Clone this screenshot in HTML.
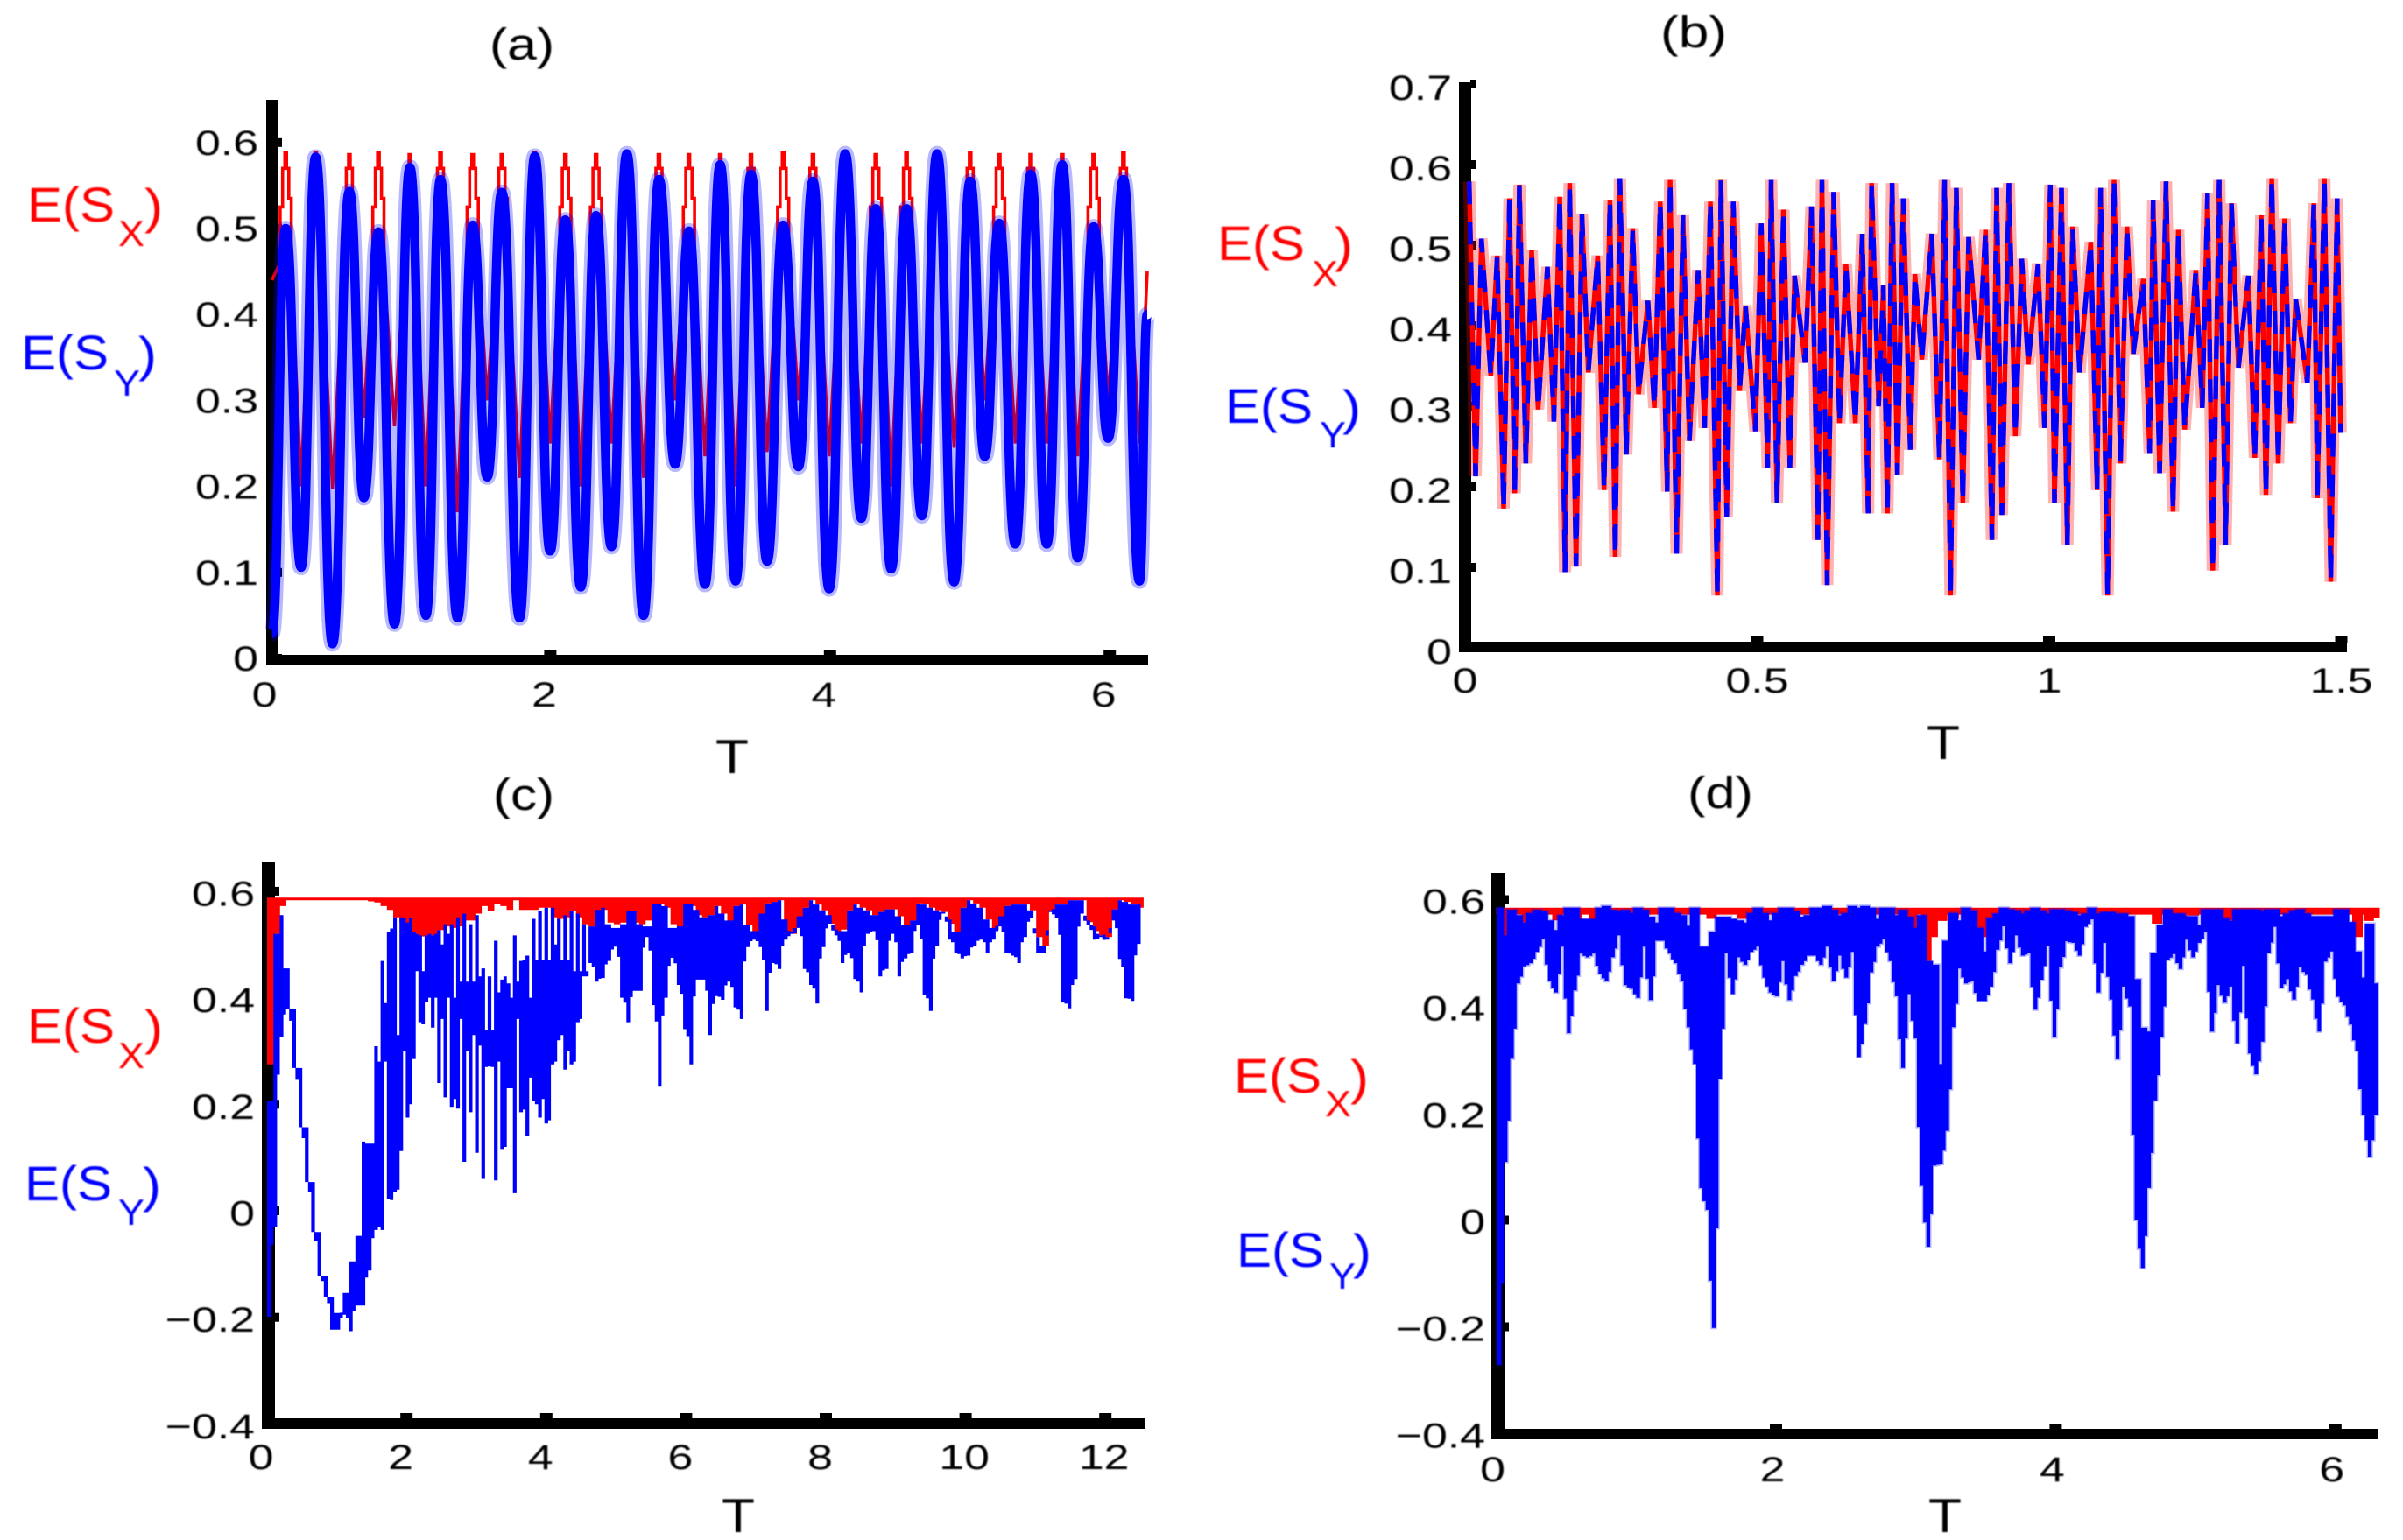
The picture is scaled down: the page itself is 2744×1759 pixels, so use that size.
<!DOCTYPE html>
<html>
<head>
<meta charset="utf-8">
<title>E(SX) and E(SY) versus T</title>
<style>
html,body{margin:0;padding:0;background:#fff}
svg{display:block}
text{font-family:"Liberation Sans",sans-serif;fill:#000}
.lbl-x text,text.lbl-x{fill:#f00}
text.lbl-y{fill:#00f}
</style>
</head>
<body>
<svg id="figure" xmlns="http://www.w3.org/2000/svg" width="2744" height="1759" viewBox="0 0 2744 1759">
<defs><filter id="soft" x="-2%" y="-2%" width="104%" height="104%"><feGaussianBlur stdDeviation="0.7"/></filter></defs>
<rect width="2744" height="1759" fill="#fff"/>
<g id="axes-layer"></g>
<g id="series-layer"></g>
<g id="text-layer" filter="url(#soft)">
  <text x="559" y="68" font-size="51" textLength="74" lengthAdjust="spacingAndGlyphs">(a)</text>
  <text x="1896" y="54" font-size="51" textLength="76" lengthAdjust="spacingAndGlyphs">(b)</text>
  <text x="563" y="925" font-size="51" textLength="70" lengthAdjust="spacingAndGlyphs">(c)</text>
  <text x="1927" y="923" font-size="51" textLength="75" lengthAdjust="spacingAndGlyphs">(d)</text>

  <text x="817" y="883" font-size="55" textLength="38" lengthAdjust="spacingAndGlyphs">T</text>
  <text x="2200" y="867" font-size="55" textLength="38" lengthAdjust="spacingAndGlyphs">T</text>
  <text x="824" y="1750" font-size="55" textLength="38" lengthAdjust="spacingAndGlyphs">T</text>
  <text x="2202" y="1750" font-size="55" textLength="38" lengthAdjust="spacingAndGlyphs">T</text>

  <g>
    <text class="lbl-x" x="31" y="253" font-size="56" textLength="100" lengthAdjust="spacingAndGlyphs">E(S</text>
    <text class="lbl-x" x="135" y="281" font-size="42" textLength="30" lengthAdjust="spacingAndGlyphs">X</text>
    <text class="lbl-x" x="165" y="255" font-size="56" textLength="21" lengthAdjust="spacingAndGlyphs">)</text>
  </g>
  <g>
    <text class="lbl-y" x="24" y="422" font-size="56" textLength="100" lengthAdjust="spacingAndGlyphs">E(S</text>
    <text class="lbl-y" x="130" y="452" font-size="42" textLength="30" lengthAdjust="spacingAndGlyphs">Y</text>
    <text class="lbl-y" x="158" y="424" font-size="56" textLength="21" lengthAdjust="spacingAndGlyphs">)</text>
  </g>
  <g>
    <text class="lbl-x" x="1390" y="297" font-size="56" textLength="100" lengthAdjust="spacingAndGlyphs">E(S</text>
    <text class="lbl-x" x="1498" y="327" font-size="42" textLength="30" lengthAdjust="spacingAndGlyphs">X</text>
    <text class="lbl-x" x="1524" y="299" font-size="56" textLength="21" lengthAdjust="spacingAndGlyphs">)</text>
  </g>
  <g>
    <text class="lbl-y" x="1399" y="483" font-size="56" textLength="100" lengthAdjust="spacingAndGlyphs">E(S</text>
    <text class="lbl-y" x="1507" y="511" font-size="42" textLength="30" lengthAdjust="spacingAndGlyphs">Y</text>
    <text class="lbl-y" x="1533" y="485" font-size="56" textLength="21" lengthAdjust="spacingAndGlyphs">)</text>
  </g>
  <g>
    <text class="lbl-x" x="31" y="1191" font-size="56" textLength="100" lengthAdjust="spacingAndGlyphs">E(S</text>
    <text class="lbl-x" x="135" y="1220" font-size="42" textLength="30" lengthAdjust="spacingAndGlyphs">X</text>
    <text class="lbl-x" x="165" y="1193" font-size="56" textLength="21" lengthAdjust="spacingAndGlyphs">)</text>
  </g>
  <g>
    <text class="lbl-y" x="28" y="1371" font-size="56" textLength="100" lengthAdjust="spacingAndGlyphs">E(S</text>
    <text class="lbl-y" x="135" y="1399" font-size="42" textLength="30" lengthAdjust="spacingAndGlyphs">Y</text>
    <text class="lbl-y" x="163" y="1373" font-size="56" textLength="21" lengthAdjust="spacingAndGlyphs">)</text>
  </g>
  <g>
    <text class="lbl-x" x="1409" y="1248" font-size="56" textLength="100" lengthAdjust="spacingAndGlyphs">E(S</text>
    <text class="lbl-x" x="1513" y="1275" font-size="42" textLength="30" lengthAdjust="spacingAndGlyphs">X</text>
    <text class="lbl-x" x="1542" y="1250" font-size="56" textLength="21" lengthAdjust="spacingAndGlyphs">)</text>
  </g>
  <g>
    <text class="lbl-y" x="1412" y="1447" font-size="56" textLength="100" lengthAdjust="spacingAndGlyphs">E(S</text>
    <text class="lbl-y" x="1518" y="1472" font-size="42" textLength="30" lengthAdjust="spacingAndGlyphs">Y</text>
    <text class="lbl-y" x="1545" y="1449" font-size="56" textLength="21" lengthAdjust="spacingAndGlyphs">)</text>
  </g>
</g>
</svg>
<script>
/* ---------- Tick values and labels ---------- */
const aXTicks=[0,2,4,6];
const aXLabels=['0','2','4','6'];
const aYTicks=[0,0.1,0.2,0.3,0.4,0.5,0.6];
const aYLabels=['0','0.1','0.2','0.3','0.4','0.5','0.6'];
const bXTicks=[0,0.5,1,1.5];
const bXLabels=['0','0.5','1','1.5'];
const bYTicks=[0,0.1,0.2,0.3,0.4,0.5,0.6,0.7];
const bYLabels=['0','0.1','0.2','0.3','0.4','0.5','0.6','0.7'];
const cXTicks=[0,2,4,6,8,10,12];
const cXLabels=['0','2','4','6','8','10','12'];
const cYTicks=[-0.4,-0.2,0,0.2,0.4,0.6];
const cYLabels=['\u22120.4','\u22120.2','0','0.2','0.4','0.6'];
const dXTicks=[0,2,4,6];
const dXLabels=['0','2','4','6'];
const dYTicks=[-0.4,-0.2,0,0.2,0.4,0.6];
const dYLabels=['\u22120.4','\u22120.2','0','0.2','0.4','0.6'];

/* ---------- Panel (a): turning points ---------- */
const aT=[.01,.108,.218,.322,.443,.563,.667,.771,.886,.996,1.111,1.215,1.336,1.445,1.549,1.654,1.78,1.889,1.999,2.108,2.218,2.327,2.437,2.547,2.667,2.777,2.892,2.991,3.106,3.215,3.325,3.435,3.55,3.665,3.774,3.878,3.994,4.109,4.224,4.328,4.437,4.547,4.656,4.766,4.887,5.002,5.106,5.21,5.325,5.435,5.55,5.66,5.77,5.885,5.989,6.098,6.213,6.268];
const aBlue=[.029,.5,.106,.583,.017,.543,.187,.496,.04,.571,.05,.557,.047,.504,.211,.542,.047,.584,.125,.51,.083,.515,.13,.587,.05,.557,.226,.497,.086,.574,.09,.563,.113,.504,.223,.555,.081,.587,.163,.523,.104,.523,.166,.587,.089,.555,.235,.506,.133,.563,.133,.574,.117,.502,.256,.557,.09,.4];
const aRed=[.44,.588,.2,.588,.197,.586,.28,.588,.27,.586,.2,.588,.17,.586,.3,.586,.21,.588,.25,.586,.2,.586,.25,.588,.21,.586,.3,.586,.235,.586,.2,.586,.24,.588,.3,.586,.235,.588,.25,.586,.2,.588,.25,.588,.245,.588,.3,.586,.25,.586,.25,.586,.235,.586,.3,.588,.25,.45];

/* ---------- Panel (b): turning points ---------- */
const bT=[.007,.018,.028,.044,.055,.066,.076,.085,.093,.104,.114,.125,.141,.152,.162,.171,.179,.19,.2,.211,.227,.238,.248,.257,.265,.276,.287,.297,.313,.324,.334,.346,.351,.362,.373,.384,.399,.41,.42,.432,.438,.448,.459,.47,.48,.497,.507,.518,.524,.534,.545,.556,.564,.582,.593,.604,.611,.62,.631,.641,.652,.668,.68,.69,.696,.708,.716,.723,.731,.74,.75,.762,.77,.782,.799,.812,.821,.831,.841,.852,.862,.879,.891,.902,.91,.919,.931,.942,.953,.964,.981,.992,1.002,1.009,1.021,1.031,1.04,1.052,1.071,1.082,1.088,1.1,1.111,1.122,1.133,1.144,1.161,1.172,1.178,1.189,1.2,1.212,1.221,1.232,1.251,1.262,1.271,1.28,1.291,1.302,1.312,1.324,1.341,1.352,1.363,1.371,1.381,1.392,1.403,1.413,1.422,1.442,1.453,1.459,1.471,1.482,1.493,1.499];
const bV=[.579,.213,.508,.338,.487,.173,.558,.192,.575,.229,.494,.296,.473,.281,.56,.094,.577,.101,.539,.342,.487,.196,.556,.113,.583,.24,.521,.315,.431,.298,.554,.194,.581,.117,.537,.257,.469,.273,.554,.065,.581,.163,.554,.319,.425,.269,.527,.223,.581,.18,.544,.223,.462,.354,.548,.134,.581,.078,.566,.279,.477,.279,.514,.167,.577,.3,.45,.167,.577,.215,.558,.246,.464,.358,.514,.234,.581,.065,.571,.18,.51,.358,.519,.134,.571,.165,.577,.263,.483,.352,.477,.273,.575,.18,.571,.128,.523,.342,.504,.196,.571,.065,.581,.229,.523,.365,.458,.242,.556,.217,.579,.169,.519,.271,.469,.298,.564,.096,.581,.128,.552,.348,.462,.236,.537,.19,.583,.229,.533,.279,.433,.329,.552,.186,.583,.082,.558,.267];

/* ---------- Panel (c): per-column range of the fast oscillation ---------- */
const cStartT=0.005;
const cStepT=0.0902;
const cHigh=[.206,.52,.555,.455,.379,.268,.157,.054,-.04,-.123,-.161,-.192,-.154,-.095,-.047,.13,.126,.309,.469,.524,.551,.551,.541,.524,.517,.517,.517,.527,.538,.538,.551,.558,.538,.555,.455,.44,.507,.434,.427,.517,.469,.479,.548,.562,.569,.569,.548,.555,.562,.558,.538,.534,.565,.569,.538,.531,.538,.562,.562,.538,.534,.576,.576,.572,.531,.534,.576,.576,.565,.551,.555,.572,.558,.545,.572,
.575,.536,.525,.558,.577,.58,.583,.547,.523,.553,.569,.583,.575,.564,.555,.528,.525,.564,.575,.569,.564,.555,.561,.566,.566,.553,.536,.545,.577,.575,.569,.564,.561,.547,.523,.569,.583,.577,.569,.547,.531,.553,.572,.575,.575,.575,.564,.514,.498,.564,.575,.575,.583,.583,.583,.545,.534,.517,.514,.566,.583,.58,.575,.575];
const cLow=[-.199,-.03,.327,.379,.268,.157,.054,-.04,-.123,-.161,-.223,-.223,-.195,-.226,-.178,-.178,-.112,-.036,-.036,.022,.036,.112,.175,.285,.354,.392,.344,.24,.213,.195,.192,.092,.185,.109,.06,.271,.057,.116,.23,.033,.185,.14,.206,.175,.164,.275,.32,.265,.275,.354,.44,.465,.43,.437,.469,.496,.4,.354,.413,.413,.514,.386,.233,.4,.475,.424,.341,.275,.434,.434,.33,.403,.396,.43,.382,
.36,.495,.509,.495,.375,.465,.454,.509,.52,.531,.454,.424,.389,.495,.539,.517,.465,.484,.435,.41,.52,.525,.44,.454,.52,.44,.474,.484,.536,.405,.375,.498,.558,.509,.484,.474,.479,.498,.509,.484,.509,.534,.484,.479,.465,.514,.55,.484,.484,.561,.55,.391,.38,.435,.558,.536,.509,.514,.509,.545,.473,.399,.394,.501];
const cBodyFrom=17;
const cBodyHigh=[.28,.39,.53,.33,.55,.55,.52,.45,.52,.52,.5,.52,.4,.43,.43,.43,.44,.34,.34,.41,.44,.4,.43,.47,.4,.47,.47,.47,.5,.47,.47,.45,.45,.45];
const cBodyLow=[-.03,.28,.02,.04,.3,.2,.45,.35,.4,.4,.36,.4,.21,.36,.3,.33,.31,.27,.27,.28,.12,.23,.36,.19,.25,.2,.21,.17,.28,.33,.3,.28,.36,.44];
const cRedLow=[.275,.52,.572,.583,.583,.583,.583,.583,.583,.583,.583,.583,.583,.583,.583,.583,.581,.579,.572,.565,.551,.541,.534,.52,.515,.517,.517,.527,.534,.531,.534,.545,.545,.558,.572,.562,.576,.572,.565,.583,.565,.565,.565,.569,.569,.551,.548,.551,.562,.551,.538,.534,.551,.565,.541,.538,.541,.562,.541,.538,.545,.576,.576,.569,.538,.531,.576,.572,.555,.551,.555,.572,.558,.541,.572,
.575,.536,.525,.558,.577,.58,.583,.525,.52,.553,.569,.583,.575,.564,.539,.525,.528,.564,.575,.569,.564,.555,.561,.566,.566,.553,.531,.545,.577,.575,.569,.564,.561,.539,.52,.569,.583,.577,.569,.547,.528,.553,.572,.575,.575,.575,.564,.514,.498,.561,.575,.575,.583,.583,.583,.542,.525,.517,.514,.566,.583,.58,.575,.569];
const cRedTop=[.588];

/* ---------- Panel (d): per-column range of the fast oscillation ---------- */
const dStartT=0.009;
const dStepT=0.0451;
const dHigh=[.585,.533,.581,.571,.557,.575,.581,.578,.561,.543,.571,.585,.585,.564,.564,.564,.585,.588,.581,.578,.581,.575,.585,.581,.568,.557,.585,.585,.575,.571,.551,.585,.512,.512,.54,.568,.568,.564,.561,.557,.575,.585,.575,.561,.575,.585,.585,.578,.568,.571,.585,.585,.588,.581,.571,.575,.588,.585,.588,.585,.564,.585,.585,.571,.581,.568,.547,.571,.485,.478,.292,.523,.575,.561,.585,
.58,.547,.503,.566,.574,.585,.582,.58,.574,.58,.585,.58,.574,.582,.582,.58,.577,.571,.574,.585,.574,.577,.577,.574,.574,.569,.451,.36,.353,.5,.552,.582,.574,.574,.569,.569,.552,.582,.582,.582,.566,.56,.582,.582,.582,.582,.58,.582,.582,.569,.574,.58,.582,.574,.569,.569,.569,.569,.582,.582,.558,.503,.454,.555,.443];
const dLow=[-.271,.109,.302,.443,.475,.481,.502,.526,.447,.426,.512,.35,.43,.499,.492,.499,.461,.447,.492,.533,.44,.433,.416,.512,.412,.523,.523,.499,.481,.447,.361,.292,.06,.019,-.202,.264,.5,.423,.492,.478,.502,.512,.454,.426,.419,.485,.412,.457,.478,.495,.495,.478,.512,.447,.495,.454,.502,.305,.367,.464,.512,.526,.485,.419,.285,.423,.34,.064,-.05,.102,.105,.167,.361,.471,.443,
.448,.41,.41,.437,.506,.55,.481,.533,.495,.5,.394,.45,.514,.342,.473,.522,.519,.495,.549,.563,.426,.519,.413,.301,.437,.4,.0,-.09,.06,.224,.342,.487,.498,.47,.525,.492,.519,.539,.353,.44,.407,.437,.331,.476,.312,.273,.334,.5,.549,.435,.451,.413,.473,.459,.413,.353,.484,.503,.418,.402,.366,.317,.197,.118,.197];
const dRedDipT=[.084,.219,.438,.577,.7,1.54,1.762,2.974,3.075,3.12,3.187,3.27,3.36,3.463,3.515,4.725,4.903,4.987,5.237,6.158,6.238,6.28];
const dRedDipV=[.495,.557,.561,.564,.561,.564,.564,.54,.485,.53,.56,.564,.54,.541,.53,.555,.56,.57,.56,.53,.56,.565];
const dRedBand=[.572,.585];

/* ---------- Axis functions ---------- */
function scaleX(p,t){return p.x0+p.xs*t;}
function scaleY(p,v){return p.y0-p.ys*v;}

const panelA={x0:309,xs:159.7,y0:752,ys:982,xMax:6.283};
const panelB={x0:1673,xs:667,y0:740,ys:920,xMax:1.5};
const panelC={x0:304.6,xs:79.8,y0:1383,ys:608.5,xMax:12.566};
const panelD={x0:1708.6,xs:159.7,y0:1393.5,ys:610,xMax:6.283};

const NS='http://www.w3.org/2000/svg';
const axesLayer=document.getElementById('axes-layer');
const seriesLayer=document.getElementById('series-layer');
const textLayer=document.getElementById('text-layer');

function mk(tag,parent,attrs){
  const el=document.createElementNS(NS,tag);
  for(const k in attrs){el.setAttribute(k,attrs[k]);}
  parent.appendChild(el);
  return el;
}
function f(n){return n.toFixed(1);}

function labelWidth(s){
  let w=0;
  for(const ch of s){w+=ch==='.'?0.278:(ch==='\u2212'?0.584:0.556);}
  return w*51.8;
}

function drawAxes(id,p,frame,xTicks,xLabels,yTicks,yLabels,lab){
  const g=mk('g',axesLayer,{});
  
  
  const yBar=mk('rect',g,{x:frame.yBarX,y:frame.top,width:frame.yBarW,height:frame.bottom-frame.top,fill:'#000'});
  
  
  const xBar=mk('rect',g,{x:frame.yBarX+2,y:frame.xBarY,width:frame.right-frame.yBarX-2,height:frame.bottom-frame.xBarY,fill:'#000'});
  
  
  xTicks.forEach(function(t,i){
    const px=scaleX(p,t);
    if(t!==0){
      const m=mk('rect',g,{x:f(px-7),y:frame.xBarY-6,width:14,height:7,fill:'#000'});
      
      
    }
    const s=xLabels[i];
    const w=labelWidth(s);
    const extra=s.length===2?5:0;
    const tx=mk('text',textLayer,{x:f(px+lab.xShift+extra-w/2),y:lab.xBase+1,'font-size':40,textLength:f(w),lengthAdjust:'spacingAndGlyphs'});
    tx.textContent=s;
    
    
  });
  yTicks.forEach(function(v,i){
    const py=scaleY(p,v);
    const m=mk('rect',g,{x:frame.yBarX+frame.yBarW-1,y:f(py-5),width:6,height:10,fill:'#000'});
    
    
    const s=yLabels[i];
    const w=labelWidth(s);
    const ty=mk('text',textLayer,{x:f(lab.yRight-w),y:f(py+lab.yShift+14),'font-size':40,textLength:f(w),lengthAdjust:'spacingAndGlyphs'});
    ty.textContent=s;
    
    
  });
}

drawAxes('a',panelA,{yBarX:304,yBarW:13,top:114,bottom:760,xBarY:748,right:1311},aXTicks,aXLabels,aYTicks,aYLabels,{xShift:-7,xBase:806,yRight:295,yShift:0});
drawAxes('b',panelB,{yBarX:1666,yBarW:14,top:94,bottom:745,xBarY:733,right:2680},bXTicks,bXLabels,bYTicks,bYLabels,{xShift:0,xBase:790,yRight:1658,yShift:4});
drawAxes('c',panelC,{yBarX:299,yBarW:15,top:985,bottom:1632,xBarY:1620,right:1308},cXTicks,cXLabels,cYTicks,cYLabels,{xShift:-6.5,xBase:1677,yRight:291,yShift:2.5});
drawAxes('d',panelD,{yBarX:1703,yBarW:15,top:997,bottom:1644,xBarY:1632,right:2715},dXTicks,dXLabels,dYTicks,dYLabels,{xShift:-4,xBase:1691,yRight:1696,yShift:2});

/* ---------- Series (a) ---------- */
function smoothPath(p,ts,vs){
  let d='M'+f(scaleX(p,ts[0]))+' '+f(scaleY(p,vs[0]));
  for(let i=0;i+1<ts.length;i++){
    const x1=scaleX(p,ts[i]),x2=scaleX(p,ts[i+1]),m=(x1+x2)/2;
    const y1=scaleY(p,vs[i]),y2=scaleY(p,vs[i+1]);
    d+=' C'+f(m)+' '+f(y1)+' '+f(m)+' '+f(y2)+' '+f(x2)+' '+f(y2);
  }
  return d;
}
function hatPath(p,ts,reds,blues){
  const pts=[];
  for(let i=0;i<ts.length;i++){
    const t=ts[i],r=reds[i];
    if(i%2===1 && i<ts.length-1){
      const b=blues[i];
      pts.push([t-.04,Math.min(b,.5)-.04],[t-.04,.525],[t-.022,.525],[t-.022,.57],[t-.006,.57],[t-.006,r],[t+.006,r],[t+.006,.57],[t+.022,.57],[t+.022,.535],[t+.04,.535],[t+.04,Math.min(b,.5)-.04]);
    }else{
      pts.push([t,r]);
    }
  }
  return 'M'+pts.map(function(q){return f(scaleX(p,q[0]))+' '+f(scaleY(p,q[1]));}).join(' L');
}
const gA=mk('g',seriesLayer,{});


const aRedLine=mk('path',gA,{d:hatPath(panelA,aT,aRed,aBlue),fill:'none',stroke:'#f00','stroke-width':3.6,'stroke-linejoin':'miter'});


const aBlueHalo=mk('path',gA,{d:smoothPath(panelA,aT,aBlue),fill:'none',stroke:'#00f','stroke-opacity':.28,'stroke-width':18});


const aBlueLine=mk('path',gA,{d:smoothPath(panelA,aT,aBlue),fill:'none',stroke:'#00f','stroke-width':10.5});



/* ---------- Series (b) ---------- */
function zigzag(p,ts,vs){
  return 'M'+ts.map(function(t,i){return f(scaleX(p,t))+' '+f(scaleY(p,vs[i]));}).join(' L');
}
const gB=mk('g',seriesLayer,{});


const bHalo=mk('path',gB,{d:zigzag(panelB,bT,bV),fill:'none',stroke:'#f00','stroke-opacity':.3,'stroke-width':14,'stroke-linejoin':'bevel'});


const bRedLine=mk('path',gB,{d:zigzag(panelB,bT,bV),fill:'none',stroke:'#f00','stroke-width':5.4,'stroke-linejoin':'bevel'});


const bBlueLine=mk('path',gB,{d:zigzag(panelB,bT,bV),fill:'none',stroke:'#00f','stroke-width':5.4,'stroke-linejoin':'bevel','stroke-dasharray':'26 20'});



/* ---------- Series (c) and (d): column ranges ---------- */
function rectD(x1,x2,y1,y2){
  return 'M'+f(x1)+' '+f(y1)+'H'+f(x2)+'V'+f(y2)+'H'+f(x1)+'Z';
}
function columnsPath(p,startT,stepT,hi,lo,opt){
  let d='';
  const n=Math.min(hi.length,lo.length);
  for(let i=0;i<n;i++){
    const x=scaleX(p,startT+stepT*i);
    const w=p.xs*stepT;
    d+=rectD(x,x+w*0.58,scaleY(p,hi[i]),scaleY(p,lo[i]));
    if(i+1<n){
      let topV,botV;
      const k=i-opt.bodyFrom;
      if(opt.bodyHigh && k>=0 && k<opt.bodyHigh.length){
        topV=opt.bodyHigh[k];
        botV=opt.bodyLow[k];
      }else{
        topV=opt.solidTop?Math.max(hi[i],hi[i+1]):Math.min(hi[i],hi[i+1]);
        botV=Math.max(lo[i],lo[i+1])-opt.blend*Math.abs(lo[i]-lo[i+1]);
      }
      let top=scaleY(p,topV);
      let bot=scaleY(p,botV);
      if(bot-top<6){const mid=(bot+top)/2;top=mid-3;bot=mid+3;}
      d+=rectD(x+w*0.5,x+w*1.02,top,bot);
    }
  }
  return d;
}
const gC=mk('g',seriesLayer,{});


let cRedD='';
cRedLow.forEach(function(v,i){
  const x=scaleX(panelC,cStartT+cStepT*i);
  cRedD+=rectD(x,x+panelC.xs*cStepT+.4,scaleY(panelC,cRedTop[0]),scaleY(panelC,v));
});
const cRedArea=mk('path',gC,{d:cRedD,fill:'#f00'});


const cBlueArea=mk('path',gC,{d:columnsPath(panelC,cStartT,cStepT,cHigh,cLow,{bodyFrom:cBodyFrom,bodyHigh:cBodyHigh,bodyLow:cBodyLow,blend:.2,solidTop:false}),fill:'#00f'});



const gD=mk('g',seriesLayer,{});


let dRedD=rectD(scaleX(panelD,0),scaleX(panelD,panelD.xMax),scaleY(panelD,dRedBand[1]),scaleY(panelD,dRedBand[0]));
dRedDipT.forEach(function(t,i){
  const x=scaleX(panelD,t);
  dRedD+=rectD(x-6,x+6,scaleY(panelD,dRedBand[1]),scaleY(panelD,dRedDipV[i]));
});
const dRedArea=mk('path',gD,{d:dRedD,fill:'#f00'});


const dBlueArea=mk('path',gD,{d:columnsPath(panelD,dStartT,dStepT,dHigh,dLow,{bodyFrom:0,bodyHigh:null,bodyLow:null,blend:.6,solidTop:true}),fill:'#00f',stroke:'#00f','stroke-opacity':.3,'stroke-width':3});


</script>
</body>
</html>
